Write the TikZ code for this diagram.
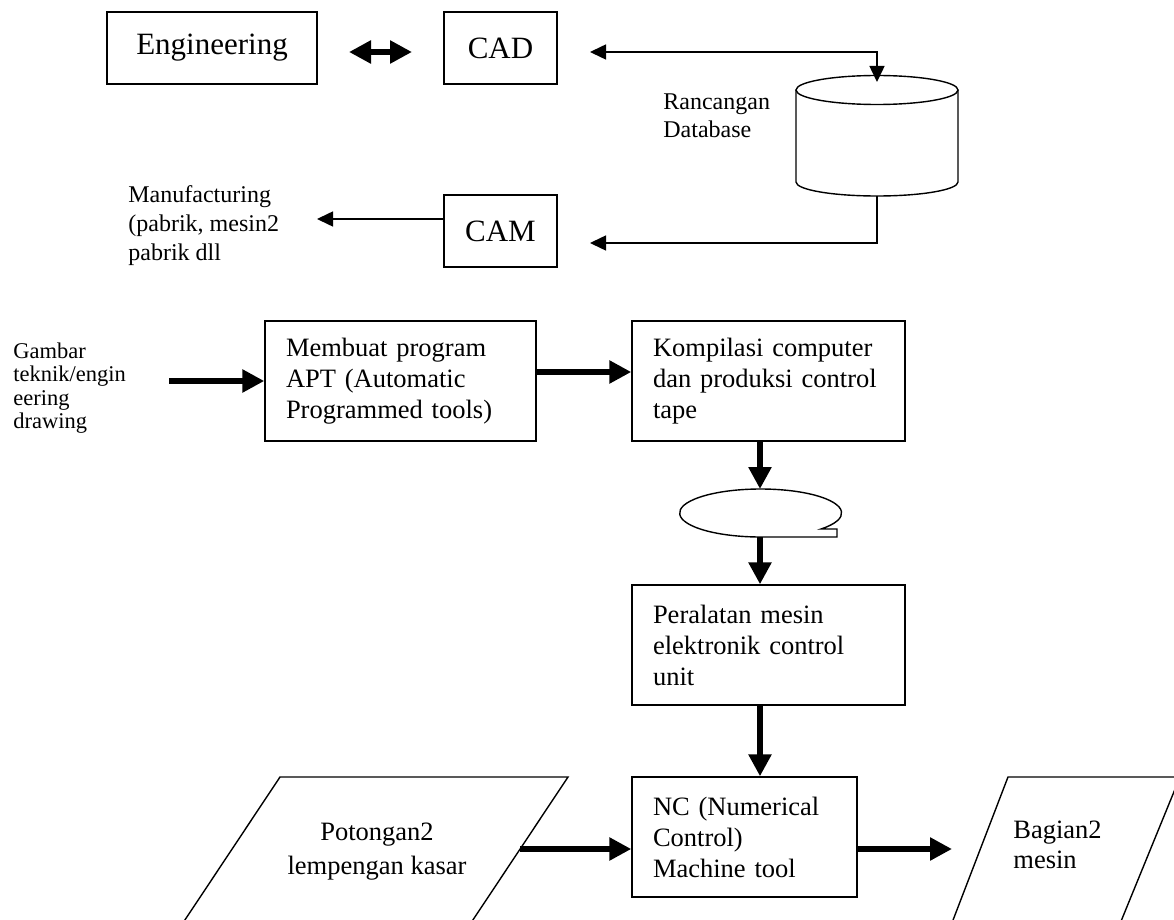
\documentclass[tikz,border=0pt]{standalone}
\usepackage{fontspec}
\setmainfont{Liberation Serif}
\usepackage{tikz}
\usetikzlibrary{positioning}
\usetikzlibrary{arrows.meta}
\pgfdeclarelayer{nodelayer}
\pgfdeclarelayer{edgelayer}
\pgfsetlayers{nodelayer,edgelayer,main}
\newcommand{\bigtext}{\fontsize{15.5pt}{18pt}\selectfont}
\newcommand{\boxtext}{\fontsize{13.25pt}{15.5pt}\selectfont}
\newcommand{\notetext}{\fontsize{12pt}{14.25pt}\selectfont}
\newcommand{\gambartext}{\fontsize{11.25pt}{11.75pt}\selectfont}
\tikzset{
    none/.style = {inner sep=0pt},
    outline/.style = {line width=0.7pt},
    bigbox/.style = {draw, line width=0.7pt, minimum width=56.5pt, minimum height=36pt, inner sep=0pt, font=\bigtext},
    box/.style = {draw, line width=0.7pt, minimum height=60pt, inner xsep=10.5pt, inner ysep=0pt, align=left, font=\boxtext},
    note/.style = {inner sep=0pt, anchor=base west, align=left, font=\notetext},
    plainarrow/.style = {line width=0.75pt, -{Triangle[length=8pt, width=7.5pt]}},
    plainboth/.style = {line width=0.75pt, {Triangle[length=8pt, width=7.5pt]}-{Triangle[length=8pt, width=7.5pt]}},
    fatarrow/.style = {line width=3.25pt, -{Triangle[length=11pt, width=11pt]}},
    fatboth/.style = {line width=3.25pt, {Triangle[length=11pt, width=11pt]}-{Triangle[length=11pt, width=11pt]}}
}

\begin{document}
\begin{tikzpicture}[x=0.5pt, y=-0.5pt]
    \useasboundingbox (0, 0) rectangle (1174, 920);
    \begin{pgfonlayer}{nodelayer}
        % CAD / CAM part (text nodes sit on the baseline of their last line)
        \node [style=bigbox, minimum width=105pt] (eng) at (212, 48) {Engineering};
        \node [style=bigbox] (cad) at (500.5, 48) {CAD};
        \node [style=bigbox] (cam) at (500.5, 231) {CAM};
        \node [style=note] (mfg) at (128, 260) {Manufacturing\\(pabrik, mesin2\\pabrik dll};
        \node [style=note] (dbname) at (663, 138) {Rancangan\\Database};
        \draw [style=outline] (877, 90) ellipse [x radius=81, y radius=14.5];
        \draw [style=outline] (796, 90) -- (796, 182) arc [start angle=180, end angle=0, x radius=81, y radius=14] -- (958, 90);
        \coordinate (dbtop) at (877, 82);
        \coordinate (dbbot) at (877, 196);
        \coordinate (engr) at (349, 52);
        \coordinate (cadl) at (412, 52);
        \coordinate (cadin) at (590, 52);
        \coordinate (camin) at (590, 243);
        \coordinate (mfgin) at (317, 219);
        % NC part
        \node [style=none, font=\gambartext, anchor=base west, align=left] (gambar) at (13, 428.5) {Gambar\\teknik/engin\\eering\\drawing};
        \node [style=box, text width=114.5pt] (apt) at (400.5, 381) {Membuat program\\APT (Automatic\\Programmed tools)};
        \node [style=box, text width=115.5pt] (kom) at (768.5, 381) {Kompilasi computer\\dan produksi control\\tape};
        \draw [style=outline] (821, 529) arc [start angle=41.8, end angle=-270, x radius=81, y radius=24] -- (837, 537) -- (837, 529) -- cycle;
        \node [style=box, text width=115.5pt] (per) at (768.5, 645) {Peralatan mesin\\elektronik control\\unit};
        \node [style=box, text width=91.5pt] (nc) at (744.5, 837) {NC (Numerical\\Control)\\Machine tool};
        \begin{scope}
            \clip (0, 0) rectangle (1174, 920);
            \draw [style=outline] (145, 980) -- (280, 777) -- (568, 777) -- (433, 980);
            \draw [style=outline] (930, 980) -- (1008, 777) -- (1180, 777) -- (1097, 980);
        \end{scope}
        \node [style=none, font=\fontsize{13.25pt}{17pt}\selectfont, anchor=base, align=center] (potongan) at (377, 874) {Potongan2\\lempengan kasar};
        \node [style=none, font=\fontsize{13.25pt}{15pt}\selectfont, anchor=base west, align=left] (bagian) at (1013, 868) {Bagian2\\mesin};
        \coordinate (gbout) at (169, 381);
        \coordinate (tapetop) at (760, 489);
        \coordinate (tapebot) at (760, 537);
        \coordinate (potout) at (520, 849);
        \coordinate (bagin) at (952, 849);
    \end{pgfonlayer}
    \begin{pgfonlayer}{edgelayer}
        \draw [style=fatboth] (engr) to (cadl);
        \draw [style=plainboth] (cadin) -| (dbtop);
        \draw [style=plainarrow] (dbbot) |- (camin);
        \draw [style=plainarrow] ([yshift=6pt]cam.west) to (mfgin);
        \draw [style=fatarrow] (gbout) to (apt.west);
        \draw [style=fatarrow] ([yshift=4.5pt]apt.east) to ([yshift=4.5pt]kom.west);
        \draw [style=fatarrow] (kom.south -| tapetop) to (tapetop);
        \draw [style=fatarrow] (tapebot) to (per.north -| tapebot);
        \draw [style=fatarrow] (per.south -| tapebot) to (nc.north -| tapebot);
        \draw [style=fatarrow] (potout) to ([yshift=-6pt]nc.west);
        \draw [style=fatarrow] ([yshift=-6pt]nc.east) to (bagin);
    \end{pgfonlayer}
\end{tikzpicture}
\end{document}
